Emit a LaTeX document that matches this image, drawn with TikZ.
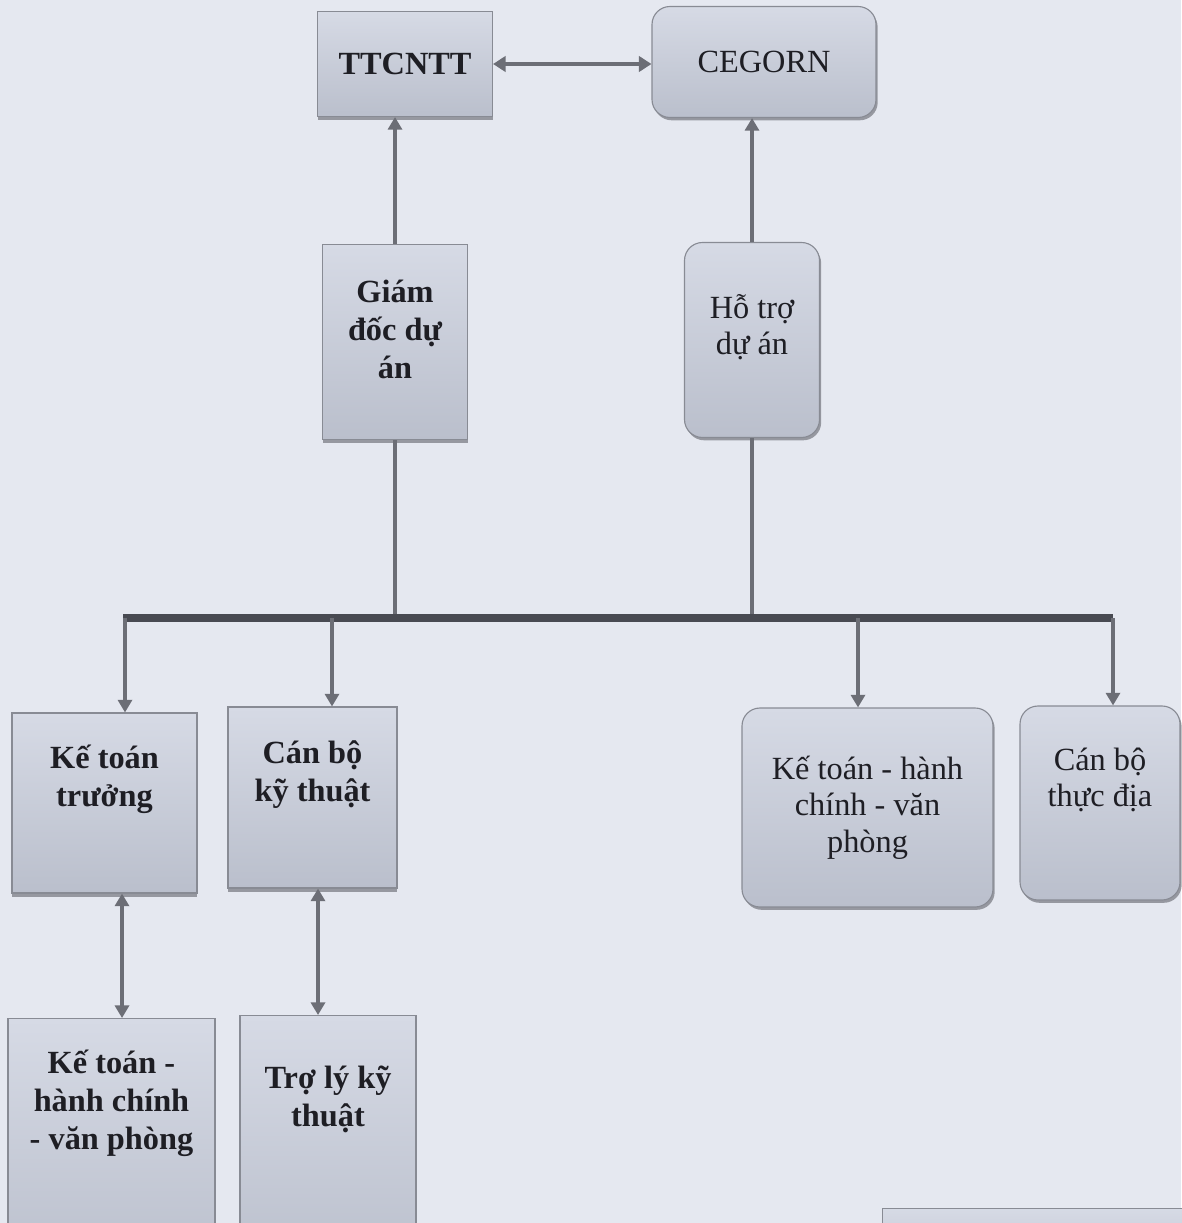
\documentclass[tikz,border=0pt]{standalone}
\usepackage{fontspec}
\setmainfont{Liberation Serif}
\usetikzlibrary{arrows.meta,shadows}
\definecolor{paper}{RGB}{229,232,240}
\definecolor{boxtop}{RGB}{214,218,229}
\definecolor{boxbot}{RGB}{186,191,204}
\definecolor{edgec}{RGB}{136,139,148}
\definecolor{wirec}{RGB}{108,110,118}
\definecolor{busc}{RGB}{72,74,82}
\definecolor{ink}{RGB}{30,30,36}
% lines of a box, lifted by extra space below them
\newcommand{\boxlines}[2]{\begin{tabular}{@{}c@{}}#2\\[#1]\end{tabular}}
\tikzset{
  orgbox/.style={draw=edgec, line width=0.8pt, top color=boxtop, bottom color=boxbot,
    text=ink, align=center, font=\fontsize{23}{27}\selectfont,
    drop shadow={shadow xshift=0pt, shadow yshift=-2.5pt, fill=busc}},
  orgboxb/.style={orgbox, font=\fontsize{23}{27}\selectfont\bfseries},
  orground/.style={draw=edgec, line width=0.8pt, top color=boxtop, bottom color=boxbot,
    text=ink, align=center, font=\fontsize{23}{26}\selectfont, rounded corners=0.45cm,
    drop shadow={shadow xshift=1.2pt, shadow yshift=-2pt, fill=busc}},
  wire/.style={draw=wirec, line width=2.2pt},
  tip/.style={-{Triangle[width=10pt,length=9pt]}},
  bus/.style={draw=busc, line width=5pt}
}
\begin{document}
\begin{tikzpicture}
  \fill[paper] (0,0) rectangle (29.525,-30.575);
  \useasboundingbox (0,0) rectangle (29.525,-30.575);
  % top level
  \node[orgboxb, minimum width=4.375cm, minimum height=2.625cm] (ttcntt) at (10.125,-1.6) {TTCNTT};
  \node[orground, minimum width=5.6cm, minimum height=2.775cm] (cegorn) at (19.1,-1.55) {CEGORN};
  % project level
  \node[orgboxb, minimum width=3.625cm, minimum height=4.875cm] (gdda) at (9.875,-8.55) {\boxlines{0.45cm}{Giám\\ đốc dự\\ án}};
  \node[orground, minimum width=3.375cm, minimum height=4.875cm] (htda) at (18.8,-8.5) {\boxlines{0.55cm}{Hỗ trợ\\ dự án}};
  % staff
  \node[orgboxb, minimum width=4.625cm, minimum height=4.5cm] (ktt) at (2.6125,-20.075) {\boxlines{1.15cm}{Kế toán\\ trưởng}};
  \node[orgboxb, minimum width=4.225cm, minimum height=4.525cm] (cbkt) at (7.8125,-19.9375) {\boxlines{1.15cm}{Cán bộ\\ kỹ thuật}};
  \node[orground, minimum width=6.275cm, minimum height=4.975cm] (kthc) at (21.6875,-20.1875) {Kế toán - hành\\ chính - văn\\ phòng};
  \node[orground, minimum width=4cm, minimum height=4.85cm] (cbtd) at (27.5,-20.075) {\boxlines{1.1cm}{Cán bộ\\ thực địa}};
  % assistants
  \node[orgboxb, anchor=north, minimum width=5.175cm, minimum height=6.5cm] (ktvp) at (2.7875,-25.45) {\boxlines{2.25cm}{Kế toán -\\ hành chính\\ - văn phòng}};
  \node[orgboxb, anchor=north, minimum width=4.4cm, minimum height=6.5cm] (tlkt) at (8.2,-25.375) {\boxlines{2.3cm}{Trợ lý kỹ\\ thuật}};
  \node[orgbox, anchor=north west, minimum width=8cm, minimum height=2cm] (next) at (22.05,-30.2) {};
  % links
  \draw[wire, line width=3.5pt, {Triangle[width=11pt,length=9pt]}-{Triangle[width=11pt,length=9pt]}]
    (ttcntt.east) -- (cegorn.west |- ttcntt.east);
  \draw[wire, tip] (gdda.north) -- (ttcntt.south -| gdda.north);
  \draw[wire, tip] (htda.north) -- (cegorn.south -| htda.north);
  \coordinate (busl) at (3.075,-15.45);
  \coordinate (busr) at (27.825,-15.45);
  \draw[wire] (gdda.south) -- (gdda.south |- busl);
  \draw[wire] (htda.south) -- (htda.south |- busl);
  \draw[bus] (busl) -- (busr);
  \coordinate (t1) at (3.125,-15.45);
  \coordinate (t2) at (8.3,-15.45);
  \coordinate (t3) at (21.45,-15.45);
  \coordinate (t4) at (27.825,-15.45);
  \draw[wire, tip] (t1) -- (t1 |- ktt.north);
  \draw[wire, tip] (t2) -- (t2 |- cbkt.north);
  \draw[wire, tip] (t3) -- (t3 |- kthc.north);
  \draw[wire, tip] (t4) -- (t4 |- cbtd.north);
  \coordinate (d1) at (3.05,0);
  \coordinate (d2) at (7.95,0);
  \draw[wire, {Triangle[width=10pt,length=9pt]}-{Triangle[width=10pt,length=9pt]}]
    (ktt.south -| d1) -- (ktvp.north -| d1);
  \draw[wire, {Triangle[width=10pt,length=9pt]}-{Triangle[width=10pt,length=9pt]}]
    (cbkt.south -| d2) -- (tlkt.north -| d2);
\end{tikzpicture}
\end{document}
